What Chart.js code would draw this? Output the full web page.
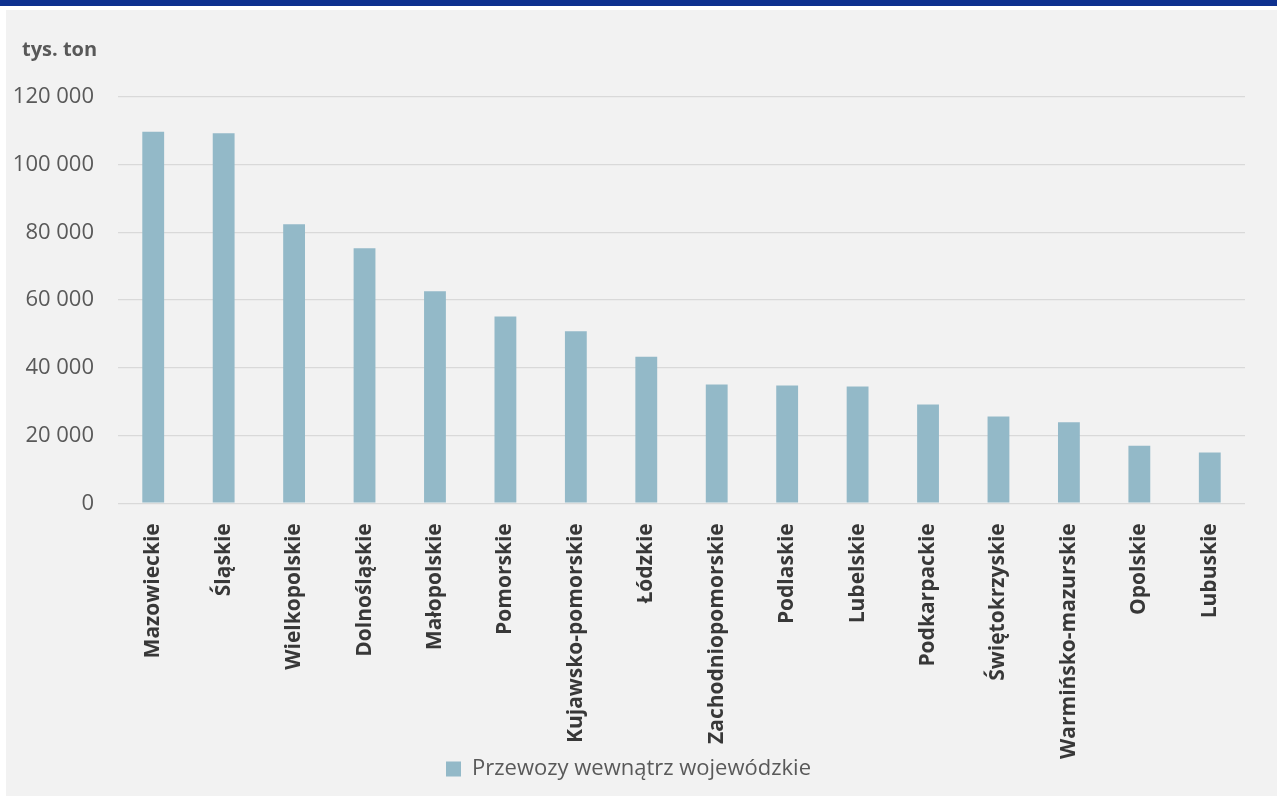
<!DOCTYPE html>
<html lang="pl">
<head>
<meta charset="utf-8">
<script src="https://cdn.jsdelivr.net/npm/chart.js@4.4.0/dist/chart.umd.min.js"></script>
<style>
  html, body { margin: 0; padding: 0; background: #ffffff; }
  body { width: 1277px; height: 796px; position: relative; overflow: hidden; font-family: "Open Sans", sans-serif; }
  #pasek { position: absolute; left: 0; top: 0; width: 1277px; height: 6px; background: #0e318f; }
  #panel { position: absolute; left: 6px; top: 10px; width: 1271px; height: 786px; background: #f2f2f2; }
  #jednostka { position: absolute; left: 16px; top: 25px; font-size: 20px; font-weight: bold; color: #595959; }
  #wykres { position: absolute; left: 0; top: 0; }
</style>
</head>
<body>
<div id="pasek"></div>
<div id="panel">
  <canvas id="wykres" width="1271" height="786"></canvas>
  <div id="jednostka">tys. ton</div>
</div>
<script>
// Dane: przewozy wewnątrz województw (tys. ton)
const wojewodztwa = ['Mazowieckie', 'Śląskie', 'Wielkopolskie', 'Dolnośląskie', 'Małopolskie', 'Pomorskie',
    'Kujawsko-pomorskie', 'Łódzkie', 'Zachodniopomorskie', 'Podlaskie', 'Lubelskie', 'Podkarpackie',
    'Świętokrzyskie', 'Warmińsko-mazurskie', 'Opolskie', 'Lubuskie'];
const przewozy = [109700, 109300, 82400, 75300, 62600, 55200, 50800, 43300, 35100, 34800, 34500, 29200,
    25600, 23900, 17000, 15000];
const nazwaSerii = 'Przewozy wewnątrz wojewódzkie';
const osY = { min: 0, max: 120000, krok: 20000 };

const czcionka = '"Open Sans", sans-serif';

function formatTys(v) {
    return String(v).replace(/\B(?=(\d{3})+(?!\d))/g, ' ');
}

new Chart(document.getElementById('wykres'), {
    type: 'bar',
    data: {
        labels: wojewodztwa,
        datasets: [{
            label: nazwaSerii,
            data: przewozy,
            backgroundColor: '#93b9c8',
            borderWidth: 0,
            barPercentage: 0.31,
            categoryPercentage: 1
        }]
    },
    options: {
        responsive: false,
        animation: false,
        layout: { padding: { top: 87, left: 6, right: 32, bottom: 6 } },
        plugins: {
            tooltip: { enabled: false },
            legend: {
                position: 'bottom',
                labels: {
                    color: '#595959',
                    font: { family: czcionka, size: 22 },
                    boxWidth: 15, boxHeight: 15,
                    padding: 8
                }
            }
        },
        scales: {
            x: {
                grid: { display: false },
                border: { display: false },
                ticks: {
                    color: '#383838',
                    font: { family: czcionka, size: 21, weight: 'bold' },
                    minRotation: 90, maxRotation: 90,
                    autoSkip: false,
                    padding: 12
                },
                afterFit: skala => {
                    // etykiety mogą wchodzić pod legendę, więc bez przycinania
                    skala.height -= 21;
                    skala._computeLabelArea = () => undefined;
                }
            },
            y: {
                min: osY.min, max: osY.max,
                grid: { color: '#d9d9d9', lineWidth: 1.3, drawTicks: false },
                border: { display: false },
                ticks: {
                    stepSize: osY.krok,
                    color: '#595959',
                    font: { family: czcionka, size: 22 },
                    padding: 24,
                    callback: v => formatTys(v)
                },
                afterFit: skala => { skala.width = 106; }
            }
        }
    }
});
</script>
</body>
</html>
